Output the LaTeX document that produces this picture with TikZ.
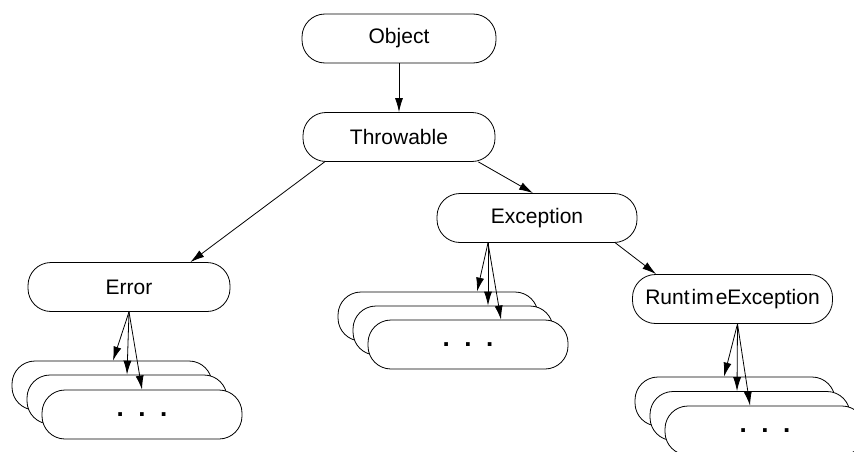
\documentclass[tikz,border=0pt]{standalone}
\usepackage{fontspec}
\setmainfont{Liberation Sans}
\usetikzlibrary{arrows.meta}

\begin{document}
\begin{tikzpicture}[x=1pt,y=-1pt,
    cls/.style={draw,line width=0.8pt,fill=white,rounded corners=23pt,inner sep=0pt,
        minimum width=200pt,minimum height=49pt,font=\fontsize{21}{25}\selectfont},
    inh/.style={-{Latex[length=14pt,width=8pt]},line width=0.8pt}]
\clip (0,0) rectangle (854,452);
\fill[white] (0,0) rectangle (854,452);
\begin{scope}
    \node[cls,minimum width=194pt] (obj) at (399,38.5) {Object};
    \node[cls,minimum width=192pt] (thr) at (399,137) {Throwable};
    \node[cls] (exc) at (537,218) {Exception};
    \node[cls,minimum width=202pt] (err) at (129,287) {Error};
    \node[cls] (rte) at (732.5,299) {Runt\hspace{2pt}im\hspace{2pt}eException};

    % subclasses
    \node[cls] (err1) at (112,385.5) {};
    \node[cls] (err2) at (127,399.5) {};
    \node[cls] (err3) at (142,414.5) {\fontsize{26}{30}\selectfont\textbf{.\ \ .\ \ .}};
    \node[cls] (exc1) at (438,316.5) {};
    \node[cls] (exc2) at (453,330.5) {};
    \node[cls] (exc3) at (468,344.5) {\fontsize{26}{30}\selectfont\textbf{.\ \ .\ \ .}};
    \node[cls] (rte1) at (735,401.5) {};
    \node[cls] (rte2) at (750,416) {};
    \node[cls] (rte3) at (765,430.5) {\fontsize{26}{30}\selectfont\textbf{.\ \ .\ \ .}};

    \path [inh] (obj) edge (thr);
    \path [inh] ([xshift=22pt]thr.south west) edge ([xshift=-40pt]err.north east);
    \path [inh] ([xshift=-17pt]thr.south east) edge ([xshift=-4pt]exc.north);
    \path [inh] ([xshift=-22pt]exc.south east) edge ([xshift=24pt]rte.north west);

    \path [inh] (err.south) edge ([xshift=1pt]err1.north);
    \path [inh] (err.south) edge (err2.north);
    \path [inh] (err.south) edge (err3.north);
    \path [inh] ([xshift=-49pt]exc.south) edge ([xshift=39pt]exc1.north);
    \path [inh] ([xshift=-49pt]exc.south) edge ([xshift=35pt]exc2.north);
    \path [inh] ([xshift=-49pt]exc.south) edge ([xshift=33pt]exc3.north);
    \path [inh] ([xshift=5pt]rte.south) edge ([xshift=-11pt]rte1.north);
    \path [inh] ([xshift=5pt]rte.south) edge ([xshift=-13pt]rte2.north);
    \path [inh] ([xshift=5pt]rte.south) edge ([xshift=-15pt]rte3.north);
\end{scope}
\end{tikzpicture}
\end{document}
